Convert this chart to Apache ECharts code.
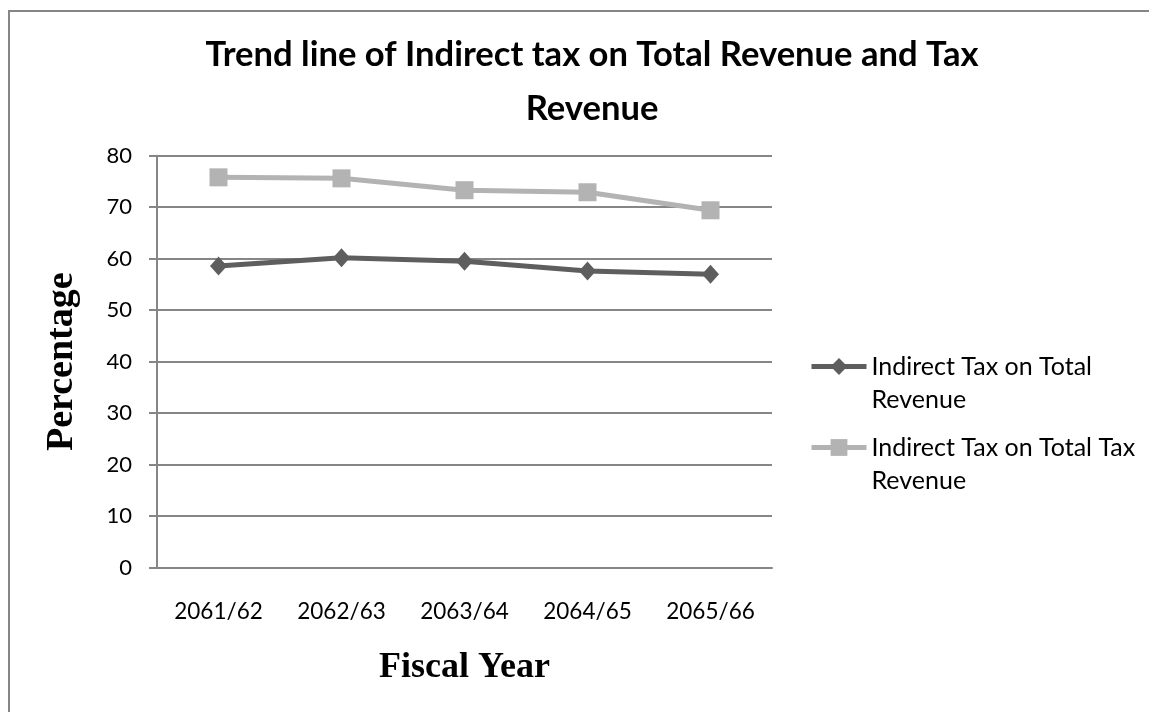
<!DOCTYPE html>
<html>
<head>
<meta charset="utf-8">
<script src="https://cdn.jsdelivr.net/npm/echarts@6/dist/echarts.min.js"></script>
<style>
  html, body { margin: 0; padding: 0; background: #fff; }
  #chart { width: 1149px; height: 712px; }
</style>
</head>
<body>
<div id="chart"></div>
<script>
// Fiscal years (Nepali calendar) on the category axis
const years = ['2061/62', '2062/63', '2063/64', '2064/65', '2065/66'];

// Share of indirect tax, in percent
const onTotalRevenue = [58.6, 60.2, 59.5, 57.6, 57.0];
const onTotalTaxRevenue = [75.8, 75.6, 73.3, 72.9, 69.4];

const seriesNames = ['Indirect Tax on Total\nRevenue', 'Indirect Tax on Total Tax\nRevenue'];

const DARK = '#5e5e5e';
const LIGHT = '#b3b3b3';
const GRID = '#868686';

const chart = echarts.init(document.getElementById('chart'), null, { renderer: 'canvas' });

chart.setOption({
  backgroundColor: '#ffffff',
  animation: false,
  title: {
    text: 'Trend line of Indirect tax on Total Revenue and Tax\nRevenue',
    left: 587,
    top: 23,
    textAlign: 'center',
    textStyle: {
      fontFamily: 'Lato',
      fontWeight: 'bold',
      fontSize: 34.6,
      lineHeight: 54,
      color: '#000'
    }
  },
  graphic: [
    {
      // outer frame of the chart area
      type: 'rect',
      silent: true,
      shape: { x: 9, y: 11, width: 1300, height: 900 },
      style: { fill: 'none', stroke: GRID, lineWidth: 2 }
    }
  ],
  legend: {
    orient: 'vertical',
    left: 804,
    top: 312,
    itemWidth: 55,
    itemHeight: 21,
    itemGap: -18,
    lineStyle: { width: 5 },
    // a blank leading line keeps the first text line level with the icon
    formatter: name => ' \n' + name,
    textStyle: {
      fontFamily: 'Lato',
      fontSize: 25,
      lineHeight: 33,
      color: '#000'
    },
    data: seriesNames
  },
  grid: {
    left: 157,
    right: 1149 - 772,
    top: 155.7,
    bottom: 712 - 567.7,
    containLabel: false
  },
  xAxis: {
    type: 'category',
    data: years,
    boundaryGap: true,
    name: 'Fiscal Year',
    nameLocation: 'middle',
    nameGap: 82,
    nameTextStyle: {
      fontFamily: 'Liberation Serif',
      fontWeight: 'bold',
      fontSize: 36,
      color: '#000'
    },
    axisLine: { show: true, lineStyle: { color: GRID, width: 2 } },
    axisTick: { show: false },
    axisLabel: {
      margin: 33,
      fontFamily: 'Lato',
      fontSize: 22.5,
      color: '#000'
    },
    splitLine: { show: false }
  },
  yAxis: {
    type: 'value',
    min: 0,
    max: 80,
    interval: 10,
    name: 'Percentage',
    nameLocation: 'middle',
    nameRotate: 90,
    nameGap: 76,
    nameTextStyle: {
      fontFamily: 'Liberation Serif',
      fontWeight: 'bold',
      fontSize: 38,
      color: '#000'
    },
    axisLine: { show: true, lineStyle: { color: GRID, width: 2 } },
    axisTick: { show: true, length: 8, lineStyle: { color: GRID, width: 2 } },
    axisLabel: {
      margin: 25,
      fontFamily: 'Lato',
      fontSize: 22,
      color: '#000'
    },
    splitLine: { show: true, lineStyle: { color: GRID, width: 2 } }
  },
  series: [
    {
      name: seriesNames[0],
      type: 'line',
      data: onTotalRevenue,
      symbol: 'diamond',
      symbolSize: [17, 19],
      color: DARK,
      lineStyle: { color: DARK, width: 5 },
      itemStyle: { color: DARK }
    },
    {
      name: seriesNames[1],
      type: 'line',
      data: onTotalTaxRevenue,
      symbol: 'rect',
      symbolSize: 18,
      color: LIGHT,
      lineStyle: { color: LIGHT, width: 5 },
      itemStyle: { color: LIGHT }
    }
  ]
});
</script>
</body>
</html>
